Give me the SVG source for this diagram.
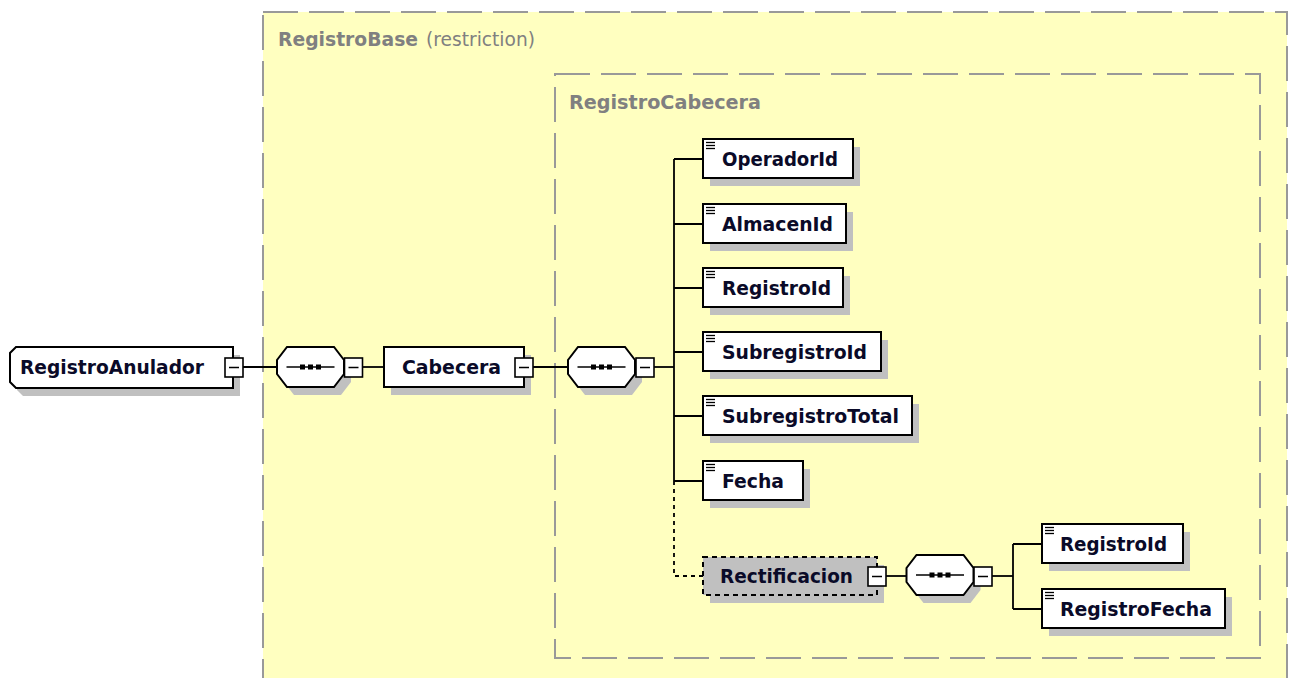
<svg xmlns="http://www.w3.org/2000/svg" xmlns:xlink="http://www.w3.org/1999/xlink" width="1294" height="678" viewBox="0 0 1294 678">
<style>
.frame{fill:#ffffc0;stroke:#999;stroke-width:2;stroke-dasharray:35 11}
.frame2{fill:none;stroke:#999;stroke-width:2;stroke-dasharray:35 11}
.title{font-family:"DejaVu Sans",Verdana,sans-serif;font-size:19.5px;fill:#808080}
.box{fill:#fff;stroke:#000;stroke-width:2}
.opt{fill:#c0c0c0;stroke:#000;stroke-width:2;stroke-dasharray:5 4}
.sh{fill:#c0c0c0}
.lbl{font-family:"DejaVu Sans",Verdana,sans-serif;font-weight:bold;font-size:20px;fill:#0a0a28}
.conn{fill:none;stroke:#000;stroke-width:1.8}
.dot{stroke-dasharray:4 4}
.ico{stroke:#000;stroke-width:1.3}
</style>
<defs>
<g id="col">
<rect x="-9" y="-9.5" width="18" height="19" fill="#fff" stroke="#000" stroke-width="1.6"/>
<line x1="-5" y1="0" x2="5" y2="0" stroke="#000" stroke-width="1.5"/>
</g>
<g id="seq">
<path d="M-23.5,-20 H23.5 L33.5,-7 V7 L23.5,20 H-23.5 L-33.5,7 V-7 Z" transform="translate(7,8)" class="sh"/>
<path d="M-23.5,-20 H23.5 L33.5,-7 V7 L23.5,20 H-23.5 L-33.5,7 V-7 Z" class="box"/>
<line x1="-24" y1="0" x2="24" y2="0" stroke="#000" stroke-width="1.5"/>
<rect x="-10.5" y="-2.5" width="5" height="5" fill="#000"/>
<rect x="-2.5" y="-2.5" width="5" height="5" fill="#000"/>
<rect x="5.5" y="-2.5" width="5" height="5" fill="#000"/>
</g>
<g id="icon">
<line x1="0" y1="0" x2="9" y2="0" class="ico"/>
<line x1="0" y1="3" x2="9" y2="3" class="ico"/>
<line x1="0" y1="6" x2="9" y2="6" class="ico"/>
</g>
</defs>

<rect width="1294" height="678" fill="#fff"/>

<g id="RegistroBase">
<rect x="263" y="12" width="1024" height="720" class="frame"/>
<text x="278" y="46" class="title" font-weight="bold" textLength="140" lengthAdjust="spacingAndGlyphs">RegistroBase</text>
<text x="426" y="46" class="title" textLength="109" lengthAdjust="spacingAndGlyphs">(restriction)</text>
</g>
<g id="RegistroCabecera">
<rect x="555" y="74" width="705" height="584" class="frame2"/>
<text x="569" y="109" class="title" font-weight="bold" textLength="192" lengthAdjust="spacingAndGlyphs">RegistroCabecera</text>
</g>

<g id="connectors">
<line x1="243" y1="367" x2="277" y2="367" class="conn"/>
<line x1="362" y1="367" x2="384" y2="367" class="conn"/>
<line x1="533" y1="367" x2="568" y2="367" class="conn"/>
<line x1="654" y1="367" x2="674" y2="367" class="conn"/>
<path d="M674,159 V481" class="conn"/>
<path d="M674,159 H703 M674,224 H703 M674,288 H703 M674,352 H703 M674,416 H703 M674,481 H703" class="conn"/>
<path d="M674,481 V576 H703" class="conn dot"/>
<line x1="886" y1="576" x2="907" y2="576" class="conn"/>
<line x1="992" y1="576" x2="1013" y2="576" class="conn"/>
<path d="M1013,544 V609 M1013,544 H1042 M1013,609 H1042" class="conn"/>
</g>

<g id="RegistroAnulador">
<path d="M16,347 H233 V388 H16 L10,382 V353 Z" transform="translate(7,8)" class="sh"/>
<path d="M16,347 H233 V388 H16 L10,382 V353 Z" class="box"/>
<text x="20" y="374" class="lbl" textLength="184" lengthAdjust="spacingAndGlyphs">RegistroAnulador</text>
<use xlink:href="#col" x="234" y="367.5"/>
</g>

<g id="seq1"><use xlink:href="#seq" x="310.5" y="367"/><use xlink:href="#col" x="353.5" y="367.5"/></g>

<g id="Cabecera">
<rect x="391" y="355" width="140" height="40" class="sh"/>
<rect x="384" y="347" width="140" height="40" class="box"/>
<text x="402" y="374" class="lbl" textLength="99" lengthAdjust="spacingAndGlyphs">Cabecera</text>
<use xlink:href="#col" x="524" y="367.5"/>
</g>

<g id="seq2"><use xlink:href="#seq" x="601.5" y="367"/><use xlink:href="#col" x="645" y="367.5"/></g>

<g id="OperadorId">
<rect x="710" y="147" width="150" height="39" class="sh"/>
<rect x="703" y="139" width="150" height="39" class="box"/>
<use xlink:href="#icon" x="706" y="142.5"/>
<text x="722" y="166" class="lbl" textLength="116" lengthAdjust="spacingAndGlyphs">OperadorId</text>
</g>
<g id="AlmacenId">
<rect x="710" y="212" width="143" height="39" class="sh"/>
<rect x="703" y="204" width="143" height="39" class="box"/>
<use xlink:href="#icon" x="706" y="207.5"/>
<text x="722" y="231" class="lbl" textLength="111" lengthAdjust="spacingAndGlyphs">AlmacenId</text>
</g>
<g id="RegistroId">
<rect x="710" y="276" width="140" height="39" class="sh"/>
<rect x="703" y="268" width="140" height="39" class="box"/>
<use xlink:href="#icon" x="706" y="271.5"/>
<text x="722" y="295" class="lbl" textLength="109" lengthAdjust="spacingAndGlyphs">RegistroId</text>
</g>
<g id="SubregistroId">
<rect x="710" y="340" width="178" height="39" class="sh"/>
<rect x="703" y="332" width="178" height="39" class="box"/>
<use xlink:href="#icon" x="706" y="335.5"/>
<text x="722" y="359" class="lbl" textLength="145" lengthAdjust="spacingAndGlyphs">SubregistroId</text>
</g>
<g id="SubregistroTotal">
<rect x="710" y="404" width="209" height="39" class="sh"/>
<rect x="703" y="396" width="209" height="39" class="box"/>
<use xlink:href="#icon" x="706" y="399.5"/>
<text x="722" y="423" class="lbl" textLength="177" lengthAdjust="spacingAndGlyphs">SubregistroTotal</text>
</g>
<g id="Fecha">
<rect x="710" y="469" width="100" height="39" class="sh"/>
<rect x="703" y="461" width="100" height="39" class="box"/>
<use xlink:href="#icon" x="706" y="464.5"/>
<text x="722" y="488" class="lbl" textLength="62" lengthAdjust="spacingAndGlyphs">Fecha</text>
</g>
<g id="Rectificacion">
<rect x="710" y="565" width="174" height="38" class="sh"/>
<rect x="703" y="557" width="174" height="38" class="opt"/>
<text x="720" y="583" class="lbl" textLength="133" lengthAdjust="spacingAndGlyphs">Rectificacion</text>
<use xlink:href="#col" x="877" y="576.5"/>
</g>

<g id="seq3"><use xlink:href="#seq" x="940" y="575"/><use xlink:href="#col" x="983" y="576.5"/></g>

<g id="RegistroId2">
<rect x="1049" y="532" width="141" height="39" class="sh"/>
<rect x="1042" y="524" width="141" height="39" class="box"/>
<use xlink:href="#icon" x="1045" y="527.5"/>
<text x="1060" y="551" class="lbl" textLength="107" lengthAdjust="spacingAndGlyphs">RegistroId</text>
</g>
<g id="RegistroFecha">
<rect x="1049" y="597" width="183" height="39" class="sh"/>
<rect x="1042" y="589" width="183" height="39" class="box"/>
<use xlink:href="#icon" x="1045" y="592.5"/>
<text x="1060" y="616" class="lbl" textLength="152" lengthAdjust="spacingAndGlyphs">RegistroFecha</text>
</g>
</svg>
